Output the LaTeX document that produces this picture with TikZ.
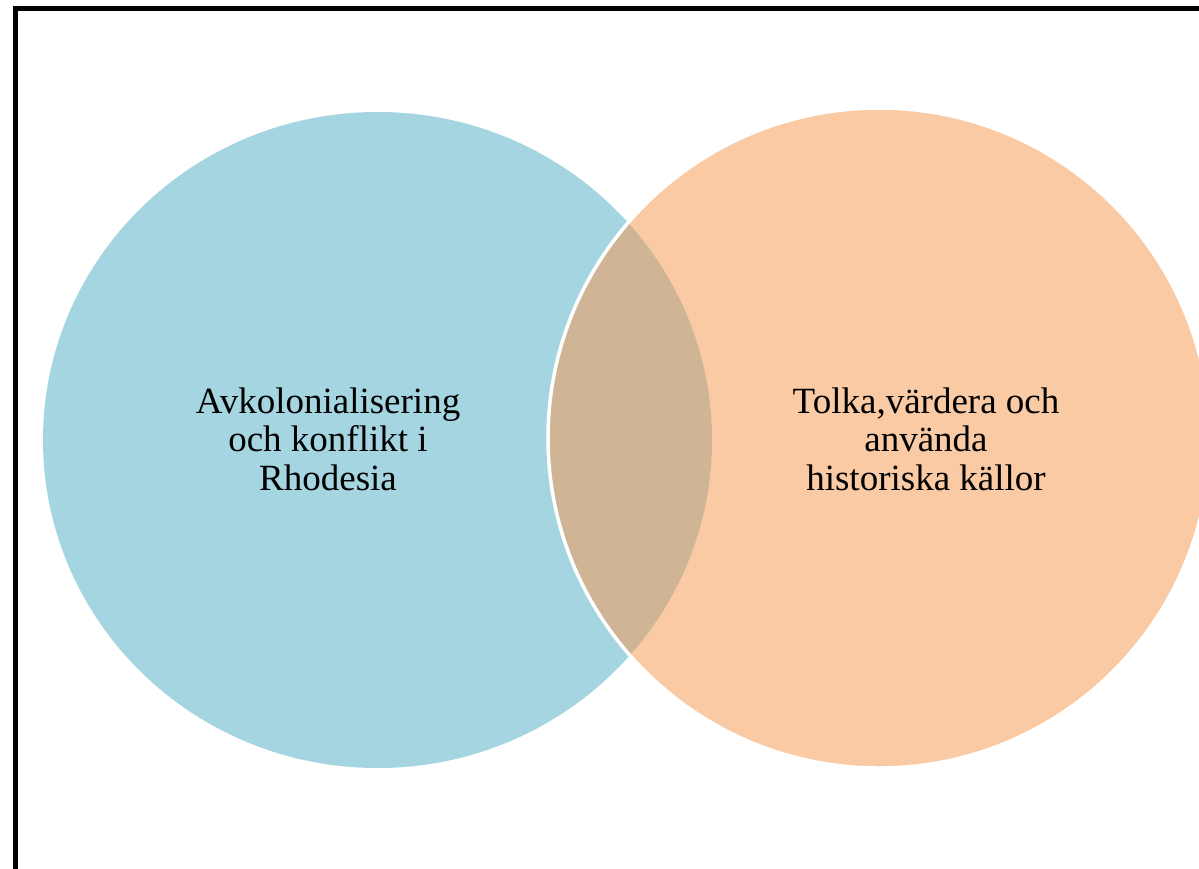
\documentclass[tikz,border=0pt]{standalone}
\usepackage{fontspec}
\setmainfont{Liberation Serif}
\definecolor{cblue}{RGB}{166,213,226}
\definecolor{corange}{RGB}{250,202,164}
\definecolor{ctan}{RGB}{207,181,149}
\tikzset{
  label text/.style={align=center, inner sep=0pt, text=black, font={\fontsize{37}{38.5}\selectfont}},
}
\begin{document}
\begin{tikzpicture}[x=1pt,y=-1pt]
\useasboundingbox (0,0) rectangle (1199,868);
\clip (0,0) rectangle (1199,868);
\fill[white] (0,0) rectangle (1199,868);
% circles
\fill[cblue] (377.5,440) ellipse [x radius=334.5, y radius=328];
\fill[corange] (879,438) ellipse [x radius=331, y radius=330];
\begin{scope}
  \clip (377.5,440) ellipse [x radius=334.5, y radius=328];
  \fill[ctan] (879,438) ellipse [x radius=331, y radius=330];
\end{scope}
\draw[white, line width=3.5pt] (879,438) ellipse [x radius=331, y radius=330];
% frame
\draw[black, line width=5.5pt] (15.5,900) -- (15.5,8.5) -- (1250,8.5);
% texts
\node[label text] (left) at (328,439)
  {Avkolonialisering\\och konflikt i\\Rhodesia};
\node[label text] (right) at (926,439)
  {Tolka,värdera och\\använda\\historiska källor};
\end{tikzpicture}
\end{document}
